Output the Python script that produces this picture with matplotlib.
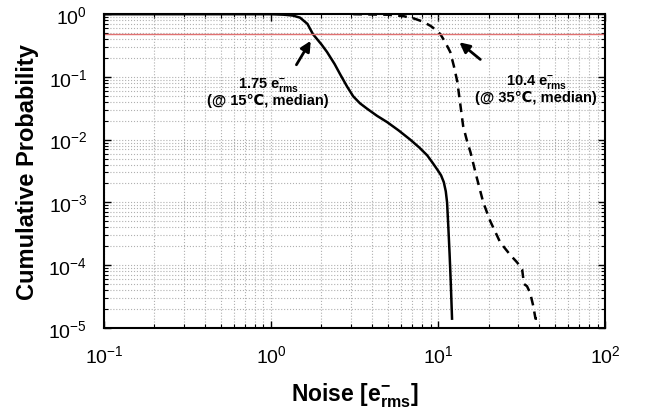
import matplotlib
matplotlib.use("Agg")
import matplotlib.pyplot as plt
from matplotlib.ticker import LogLocator, NullFormatter

plt.rcParams['font.family'] = ['Liberation Sans', 'DejaVu Sans']
plt.rcParams['mathtext.fontset'] = 'custom'
plt.rcParams['mathtext.rm'] = 'Liberation Sans'
plt.rcParams['mathtext.bf'] = 'Liberation Sans:bold'

# 15 C curve (solid)
noise_15 = [0.1, 1.0, 1.2, 1.35, 1.49, 1.65, 1.78, 2.0, 2.16, 2.4, 2.59, 2.85, 3.1,
            3.4, 3.76, 4.3, 4.95, 5.8, 6.8, 7.7, 8.6, 9.3, 9.9, 10.4, 10.8, 11.1,
            11.3, 11.5, 11.7, 11.9, 12.1]
prob_15 = [1.0, 1.0, 0.98, 0.95, 0.88, 0.7, 0.48, 0.33, 0.25, 0.16, 0.11, 0.07,
           0.049, 0.038, 0.031, 0.024, 0.019, 0.014, 0.010, 0.0075, 0.0056, 0.0042,
           0.0033, 0.0027, 0.0021, 0.0015, 0.0010, 4e-4, 1.5e-4, 5e-5, 1.4e-5]

# 35 C curve (dashed)
noise_35 = [3.1, 5.0, 6.2, 7.2, 8.1, 9.0, 9.7, 10.3, 11.0, 11.8, 12.4, 13.0, 13.5,
            14.1, 14.8, 15.6, 17.0, 18.6, 20.5, 23.5, 27.0, 29.7, 31.8, 32.6, 34.0,
            35.5, 37.1, 38.2, 40.8]
prob_35 = [1.0, 0.98, 0.93, 0.85, 0.76, 0.65, 0.56, 0.48, 0.36, 0.25, 0.15, 0.085,
           0.04, 0.0165, 0.010, 0.0063, 0.0025, 0.001, 5e-4, 2.3e-4, 1.45e-4, 1.1e-4,
           8.5e-5, 5e-5, 4.6e-5, 3.6e-5, 2.2e-5, 1.4e-5, 1.4e-5]

median_level = 0.48

fig = plt.figure(figsize=(6.46, 4.10), dpi=100)
ax = fig.add_axes([0.161, 0.198, 0.776, 0.765])

ax.plot(noise_15, prob_15, color='black', linewidth=1.8, linestyle='-')
ax.plot(noise_35, prob_35, color='black', linewidth=1.8, linestyle=(0, (3.5, 2.5)))
ax.axhline(median_level, color='#e07070', linewidth=1.0)

ax.set_xscale('log')
ax.set_yscale('log')
ax.set_xlim(0.1, 100)
ax.set_ylim(1e-5, 1)

ax.xaxis.set_major_locator(LogLocator(base=10, numticks=10))
ax.yaxis.set_major_locator(LogLocator(base=10, numticks=10))
ax.xaxis.set_minor_locator(LogLocator(base=10, subs=range(2, 10), numticks=20))
ax.yaxis.set_minor_locator(LogLocator(base=10, subs=range(2, 10), numticks=20))
ax.xaxis.set_minor_formatter(NullFormatter())
ax.yaxis.set_minor_formatter(NullFormatter())

ax.grid(True, which='both', linestyle=':', color='#b0b0b0', linewidth=0.8)
ax.tick_params(which='both', direction='in', top=True, right=True, labelsize=14, pad=12)
ax.tick_params(which='major', length=5, width=1)
ax.tick_params(which='minor', length=3, width=0.8)
for s in ax.spines.values():
    s.set_linewidth(1.5)

ax.set_xlabel(r'Noise [$\mathbf{e^{-}_{rms}}$]', fontsize=16.5, fontweight='bold', labelpad=10)
ax.set_ylabel('Cumulative Probability', fontsize=17, fontweight='bold', labelpad=7)

# arrows pointing at the medians
ax.annotate('', xy=(1.76, 0.41), xytext=(1.39, 0.143),
            arrowprops=dict(arrowstyle='-|>', color='black', lw=2, mutation_scale=15))
ax.annotate('', xy=(13.0, 0.38), xytext=(18.4, 0.178),
            arrowprops=dict(arrowstyle='-|>', color='black', lw=2, mutation_scale=15))

ax.text(0.96, 0.077, r'1.75 $\mathbf{e^{-}_{rms}}$', ha='center', va='center',
        fontsize=10.5, fontweight='bold')
ax.text(0.96, 0.043, '(@ 15\u2103, median)', ha='center', va='center',
        fontsize=10.5, fontweight='bold')
ax.text(38.6, 0.086, r'10.4 $\mathbf{e^{-}_{rms}}$', ha='center', va='center',
        fontsize=10.5, fontweight='bold')
ax.text(38.6, 0.048, '(@ 35\u2103, median)', ha='center', va='center',
        fontsize=10.5, fontweight='bold')

fig.savefig('out.png', dpi=100)
